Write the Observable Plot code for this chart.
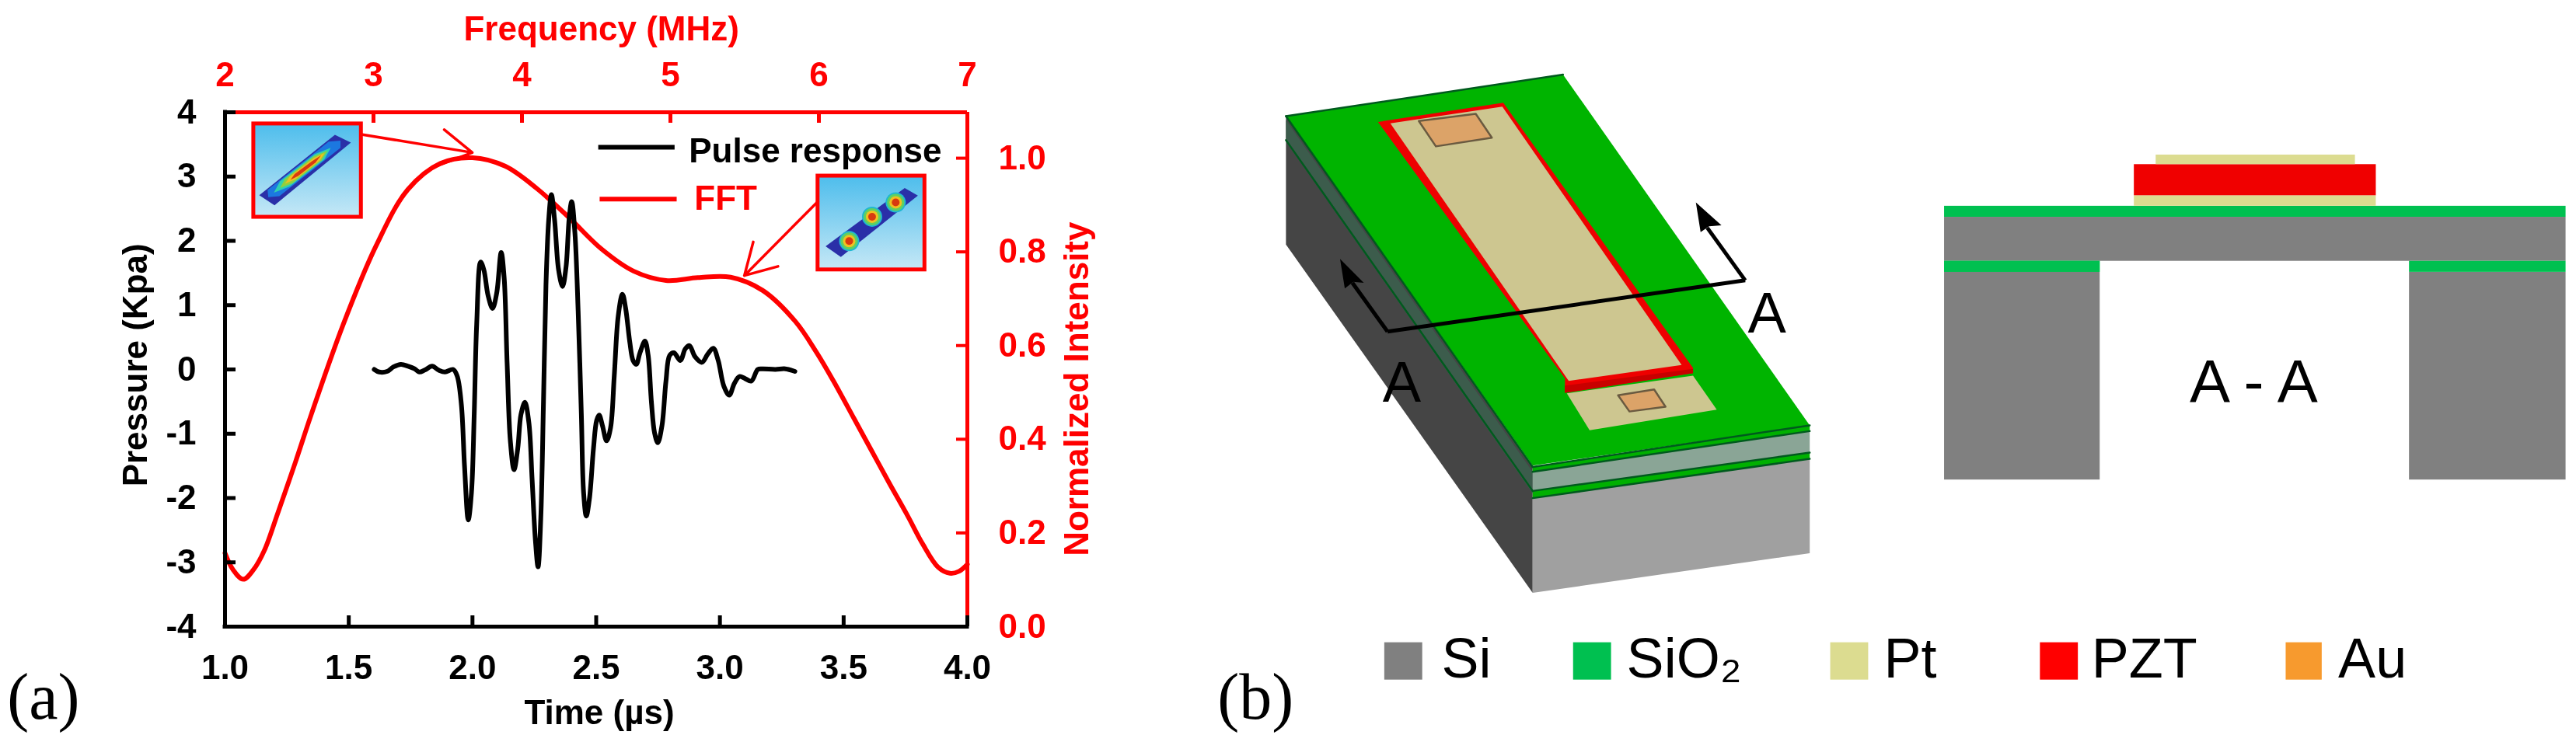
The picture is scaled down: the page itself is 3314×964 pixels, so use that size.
<!DOCTYPE html>
<html><head><meta charset="utf-8">
<script src="https://cdn.jsdelivr.net/npm/d3@7"></script>
<script src="https://cdn.jsdelivr.net/npm/@observablehq/plot@0.6"></script>
<style>
html,body{margin:0;padding:0;background:#fff}
#stage{position:relative;width:3314px;height:964px;overflow:hidden;filter:blur(0.7px)}
#stage svg{position:absolute;top:0;background:transparent;overflow:visible}
</style></head><body><div id="stage"></div>
<script>
// ---------- panel (a) data ----------
const pulseTime = [1.603,1.623,1.655,1.681,1.711,1.740,1.766,1.785,1.807,1.837,1.863,1.889,1.922,1.938,1.955,1.968,1.983,1.996,2.007,2.017,2.033,2.046,2.063,2.081,2.098,2.116,2.128,2.140,2.153,2.168,2.183,2.196,2.212,2.228,2.241,2.254,2.265,2.276,2.287,2.297,2.308,2.319,2.332,2.348,2.364,2.378,2.391,2.401,2.414,2.427,2.440,2.449,2.460,2.473,2.489,2.502,2.512,2.525,2.542,2.558,2.573,2.589,2.606,2.619,2.636,2.649,2.662,2.677,2.697,2.710,2.723,2.736,2.749,2.766,2.782,2.797,2.814,2.840,2.860,2.877,2.899,2.927,2.951,2.973,2.993,3.016,3.038,3.058,3.079,3.101,3.127,3.153,3.172,3.224,3.264,3.303];
const pulsePressure = [0,-0.04,-0.03,0.04,0.08,0.05,0.01,-0.04,-0.01,0.05,-0.01,-0.04,0,-0.10,-0.54,-1.51,-2.34,-1.91,-0.70,0.70,1.67,1.55,1.15,0.95,1.19,1.82,1.43,0.10,-1.11,-1.56,-1.23,-0.70,-0.51,-0.83,-1.71,-2.64,-3.07,-2.32,-0.50,1.31,2.32,2.72,2.32,1.55,1.29,1.59,2.36,2.61,2.12,0.91,-0.70,-1.91,-2.28,-2.00,-1.23,-0.79,-0.71,-0.87,-1.11,-0.91,-0.10,0.83,1.17,0.95,0.42,0.14,0.08,0.26,0.44,0.22,-0.50,-0.99,-1.14,-0.87,-0.18,0.22,0.26,0.14,0.32,0.37,0.20,0.11,0.24,0.33,0.14,-0.26,-0.40,-0.22,-0.11,-0.14,-0.18,0,0.01,0,0.01,-0.03];
const fftFreq = [2.00,2.053,2.123,2.193,2.264,2.357,2.474,2.581,2.796,3.016,3.231,3.451,3.666,3.886,4.101,4.321,4.536,4.751,4.970,5.185,5.405,5.620,5.840,5.985,6.097,6.237,6.354,6.471,6.597,6.700,6.803,6.882,6.943,7.0];
const fftIntensity = [0.157,0.122,0.101,0.122,0.162,0.244,0.351,0.453,0.645,0.812,0.933,0.989,1.001,0.983,0.935,0.872,0.806,0.759,0.739,0.745,0.746,0.718,0.652,0.585,0.525,0.444,0.376,0.308,0.237,0.176,0.127,0.114,0.118,0.133];
const timeTicks = [1,1.5,2,2.5,3,3.5,4];
const pressureTicks = [-4,-3,-2,-1,0,1,2,3,4];
const freqTicks = [2,3,4,5,6,7];
const intensityTicks = [0,0.2,0.4,0.6,0.8,1.0];

// ---------- schematic data (drawing units) ----------
const inset1Strip = [
 {c:"#2a2fa8",p:[[482,281],[505,297],[395,428],[373,407]]},
 {c:"#1c78e0",p:[[386,411],[402,409],[490,308],[490,293],[473,295],[385,396]]},
 {c:"#2fd0b0",p:[[394,402],[417,389],[467,332],[476,308],[453,321],[403,378]]},
 {c:"#8fd040",p:[[403,392],[421,382],[463,334],[471,314],[452,325],[410,373]]},
 {c:"#f0c020",p:[[410,383],[425,374],[460,335],[467,319],[452,329],[417,368]]},
 {c:"#d83a10",p:[[418,375],[429,367],[454,339],[462,324],[449,336],[424,363]]}
];
const inset2Strip = [[1303,392],[1322,408],[1211,536],[1189,514]];
const lobeX = [1290,1256,1223];
const lobeY = [422,452,503];
const lobeRadii = [13,11,8,5];
const lobeColors = ["#20b8d0","#60d060","#f0c020","#d83a10"];
const insetX1 = [365,1178], insetX2 = [520,1332], insetY1 = [258,367], insetY2 = [453,563];
const legendLineX1 = [862,864], legendLineX2 = [972,975], legendLineY = [307,415];
const legendLineColors = ["#000","#ff0000"];

const solid3D = [
 {c:"#454545",p:[[208,240],[468,975],[468,1238],[208,510]]},
 {c:"#3c5c4c",p:[[208,250],[468,985],[468,1030],[208,295]]},
 {c:"#a0a0a0",p:[[468,1038],[760,958],[760,1155],[468,1238]]},
 {c:"#8aa596",p:[[468,985],[760,900],[760,945],[468,1025]]},
 {c:"#00b000",p:[[468,1025],[760,945],[760,958],[468,1040]]},
 {c:"#00b000",p:[[468,975],[760,888],[760,900],[468,985]]},
 {c:"#00b400",p:[[208,242],[500,155],[760,888],[468,972]]},
 {c:"#cdc690",p:[[504,821],[637,784],[662,855],[528,898]]},
 {c:"#ee0000",p:[[305,254],[437,214],[637,768],[637,779],[502,820],[502,790]]},
 {c:"#c80000",p:[[502,805],[637,770],[637,779],[502,820]]},
 {c:"#cdc690",p:[[318,257],[436,222],[625,762],[506,795]]},
];
const auPads = [
 [[348,252],[408,237],[425,287],[366,305]],
 [[558,825],[596,813],[608,849],[570,859]]
];
const edgeLines = [
 [[208,242],[500,155]],
 [[208,242],[468,975]],
 [[468,975],[760,888]],
 [[468,985],[760,900]],
 [[208,292],[468,1025]],
 [[468,1025],[760,945]],
 [[468,1040],[760,958]]
];
const sectionX1 = [315,315,692], sectionY1 = [692,692,585];
const sectionX2 = [692,278,652], sectionY2 = [585,590,475];
const sectionHeads = [
 [[265,540],[270,602],[279,588],[290,590]],
 [[640,422],[645,484],[654,472],[667,470]]
];

const layerX1 = [902,1102,1102,1125,902,902,902,1392,902,1392];
const layerX2 = [1557,1357,1357,1335,1557,1066,1066,1557,1066,1557];
const layerY1 = [430,408,343,323,453,545,568,568,545,545];
const layerY2 = [453,430,408,343,545,568,1002,1002,568,568];
const layerColors = ["#00c050","#dcdc90","#f00000","#dcdc90","#808080","#00c050","#808080","#808080","#00c050","#00c050"];
const legendNames = ["Si","SiO₂","Pt","PZT","Au"];
const legendColors = ["#808080","#00c050","#dcdc90","#ff0000","#f79a2e"];
const swatchX1 = [312,511,782,1003,1262];
const swatchX2 = [352,551,822,1043,1300];
const nameX = [372,567,838,1057,1317];

// ---------- shared frame ----------
const font = "Liberation Sans";
const frame = {width:1400,height:964,marginLeft:289,marginRight:156,marginTop:144,marginBottom:158};
const stage = document.getElementById("stage");
const tickText = {tickSize:0,fontSize:44,fontWeight:"bold",label:null};
function add(p,left){p.style.left=left+"px";stage.appendChild(p);return p;}

// FFT layer: frequency / normalized intensity
add(Plot.plot({...frame,style:{fontFamily:font},
  x:{domain:[2,7],axis:null},y:{domain:[0,1.098],axis:null},
  marks:[
    Plot.axisX({anchor:"top",ticks:freqTicks,tickFormat:String,tickPadding:34,color:"#ff0000",...tickText}),
    Plot.axisY({anchor:"right",ticks:intensityTicks,tickFormat:d3.format(".1f"),tickPadding:40,color:"#ff0000",...tickText}),
    Plot.ruleX(freqTicks,{insetBottom:648,stroke:"#ff0000",strokeWidth:5}),
    Plot.ruleY(intensityTicks,{insetLeft:941,stroke:"#ff0000",strokeWidth:4}),
    Plot.ruleX([7],{stroke:"#ff0000",strokeWidth:5}),
    Plot.ruleY([1.098],{stroke:"#ff0000",strokeWidth:5}),
    Plot.line(fftFreq.map((f,i)=>({f,v:fftIntensity[i]})),{x:"f",y:"v",stroke:"#ff0000",strokeWidth:6,curve:"catmull-rom"})
  ]}),0);

// Pulse layer: time / pressure
add(Plot.plot({...frame,style:{fontFamily:font},
  x:{domain:[1,4],axis:null},y:{domain:[-4,4],axis:null},
  marks:[
    Plot.axisX({anchor:"bottom",ticks:timeTicks,tickFormat:d3.format(".1f"),tickPadding:36,color:"#000",...tickText}),
    Plot.axisY({anchor:"left",ticks:pressureTicks,tickFormat:String,tickPadding:37,color:"#000",...tickText}),
    Plot.ruleX(timeTicks,{insetTop:648,stroke:"#000",strokeWidth:5}),
    Plot.ruleY(pressureTicks,{insetRight:941,stroke:"#000",strokeWidth:5}),
    Plot.ruleX([1],{stroke:"#000",strokeWidth:5,strokeLinecap:"square"}),
    Plot.ruleY([-4],{stroke:"#000",strokeWidth:5,strokeLinecap:"square"}),
    Plot.line(pulseTime.map((t,i)=>({t,v:pulsePressure[i]})),{x:"t",y:"v",stroke:"#000",strokeWidth:6,curve:"catmull-rom"})
  ]}),0);

// Annotations of panel (a): insets, arrows, legend, titles
const U = {x:{domain:[0,1568],range:[0,1400],axis:null},y:{domain:[0,1565],range:[0,964],axis:null}};
const poly = (pts,c,extra={})=>Plot.line(pts,{x:d=>d[0],y:d=>d[1],fill:c,stroke:"none",...extra});
const annot = Plot.plot({width:1400,height:964,margin:0,...U,style:{fontFamily:font},
  marks:[
    Plot.rect(insetX1.map((x,i)=>i),{x1:i=>insetX1[i],x2:i=>insetX2[i],y1:i=>insetY1[i],y2:i=>insetY2[i],fill:"url(#sky)",stroke:"#ff0000",strokeWidth:5}),
    ...inset1Strip.map(s=>poly(s.p,s.c)),
    poly(inset2Strip,"#2a2fa8"),
    ...lobeRadii.map((r,k)=>Plot.dot(lobeX.map((x,i)=>i),{x:i=>lobeX[i],y:i=>lobeY[i],r,fill:lobeColors[k],stroke:"none"})),
    Plot.arrow([0],{x1:[520],y1:[280],x2:[680],y2:[318],stroke:"#ff0000",strokeWidth:3.5,headLength:20,bend:0}),
    Plot.arrow([0],{x1:[1178],y1:[420],x2:[1072],y2:[575],stroke:"#ff0000",strokeWidth:3.5,headLength:20,bend:0}),
    ...legendLineX1.map((x,i)=>Plot.ruleY([legendLineY[i]],{x1:x,x2:legendLineX2[i],stroke:legendLineColors[i],strokeWidth:6})),
    Plot.text(["Pulse response"],{x:[992],y:[315],text:d=>d,textAnchor:"start",fontSize:44,fontWeight:"bold",fill:"#000"}),
    Plot.text(["FFT"],{x:[1000],y:[415],text:d=>d,textAnchor:"start",fontSize:44,fontWeight:"bold",fill:"#ff0000"}),
    Plot.text(["Time (µs)"],{x:[863],y:[1490],text:d=>d,fontSize:44,fontWeight:"bold",fill:"#000"}),
    Plot.text(["Frequency (MHz)"],{x:[866],y:[60],text:d=>d,fontSize:44,fontWeight:"bold",fill:"#ff0000"}),
    Plot.text(["Pressure (Kpa)"],{x:[195],y:[762],text:d=>d,rotate:-90,fontSize:44,fontWeight:"bold",fill:"#000"}),
    Plot.text(["Normalized Intensity"],{x:[1552],y:[812],text:d=>d,rotate:-90,fontSize:44,fontWeight:"bold",fill:"#ff0000"}),
    Plot.text(["(a)"],{x:[62],y:[1458],text:d=>d,fontSize:84,fontFamily:"Liberation Serif",fill:"#000"})
  ]});
annot.insertAdjacentHTML("afterbegin",'<defs><linearGradient id="sky" x1="0" y1="0" x2="0" y2="1"><stop offset="0" stop-color="#4dbdec"/><stop offset="1" stop-color="#c6e8f6"/></linearGradient></defs>');
add(annot,0);

// Panel (b)
const UB = {x:{domain:[0,1568],range:[0,1914],axis:null},y:{domain:[0,1565],range:[0,964],axis:null}};
add(Plot.plot({width:1914,height:964,margin:0,...UB,style:{fontFamily:font},
  marks:[
    ...solid3D.map(s=>poly(s.p,s.c)),
    ...auPads.map(p=>poly(p,"#dca368",{stroke:"#6a5a40",strokeWidth:2.5,curve:"linear-closed"})),
    ...edgeLines.map(l=>Plot.line(l,{x:d=>d[0],y:d=>d[1],stroke:"#005a1e",strokeWidth:2.5})),
    Plot.link([0,1,2],{x1:i=>sectionX1[i],y1:i=>sectionY1[i],x2:i=>sectionX2[i],y2:i=>sectionY2[i],stroke:"#000",strokeWidth:5}),
    ...sectionHeads.map(p=>poly(p,"#000")),
    Plot.text(["A","A"],{x:[330,715],y:[800,655],text:d=>d,fontSize:74,fill:"#000"}),
    Plot.rect(layerX1.map((x,i)=>i),{x1:i=>layerX1[i],x2:i=>layerX2[i],y1:i=>layerY1[i],y2:i=>layerY2[i],fill:i=>layerColors[i]}),
    Plot.text(["A - A"],{x:[1228],y:[800],text:d=>d,fontSize:78,fill:"#000"}),
    Plot.rect(legendNames.map((n,i)=>i),{x1:i=>swatchX1[i],x2:i=>swatchX2[i],y1:1342,y2:1420,fill:i=>legendColors[i]}),
    Plot.text(legendNames.map((n,i)=>i),{x:i=>nameX[i],y:1378,text:i=>legendNames[i],textAnchor:"start",fontSize:72,fill:"#000"}),
    Plot.text(["(b)"],{x:[176],y:[1458],text:d=>d,fontSize:84,fontFamily:"Liberation Serif",fill:"#000"})
  ]}),1400);
</script></body></html>
